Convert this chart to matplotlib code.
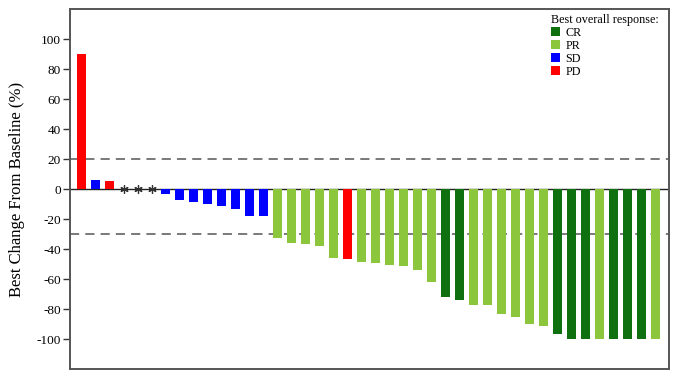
import numpy as np
import matplotlib.pyplot as plt
from matplotlib.patches import Patch

plt.rcParams['font.family'] = ['Liberation Serif', 'DejaVu Serif']

# best overall response per patient, in plotted order
response = ['PD', 'SD', 'PD', 'NE', 'NE', 'NE',
            'SD', 'SD', 'SD', 'SD', 'SD', 'SD', 'SD', 'SD',
            'PR', 'PR', 'PR', 'PR', 'PR', 'PD', 'PR', 'PR', 'PR', 'PR', 'PR', 'PR',
            'CR', 'CR', 'PR', 'PR', 'PR', 'PR', 'PR', 'PR',
            'CR', 'CR', 'CR', 'PR', 'CR', 'CR', 'CR', 'PR']
change = [90, 5.8, 5.3, 0, 0, 0,
          -3.6, -7.6, -8.9, -9.8, -11.1, -13.3, -17.8, -18.2,
          -32.4, -36.2, -36.9, -38.2, -46.2, -46.7, -48.9, -49.3, -50.4, -51.3, -54.2, -62,
          -72, -74.2, -77.6, -77.6, -83.3, -85.1, -89.8, -91.6,
          -96.4, -100, -100, -100, -100, -100, -100, -100]
yticks = [100, 80, 60, 40, 20, 0, -20, -40, -60, -80, -100]

colors = {'CR': '#0f700f', 'PR': '#8cc63c', 'SD': '#0000ff', 'PD': '#ff0000', 'NE': 'white'}
legend_labels = ['CR', 'PR', 'SD', 'PD']

fig = plt.figure(figsize=(6.79, 3.82), dpi=100)
ax = fig.add_axes([70 / 679, 1 - 369 / 382, 599 / 679, 360 / 382])

x = np.arange(len(change))
ax.bar(x, change, width=0.62, color=[colors[r] for r in response], zorder=2)

# not evaluable patients marked with an asterisk on the baseline
ne = [i for i, r in enumerate(response) if r == 'NE']
ax.plot(ne, [0] * len(ne), linestyle='none', marker=(6, 2, 0), markersize=6,
        color='#333333', markeredgewidth=0.9, zorder=3)

ax.axhline(0, color='#222222', lw=1.0, zorder=1)
ax.axhline(20, color='#555555', lw=1.1, ls=(0, (6, 4)), zorder=1)
ax.axhline(-30, color='#555555', lw=1.1, ls=(0, (6, 4)), zorder=1)

ax.set_xlim(-0.83, len(change) - 1 + 0.95)
ax.set_ylim(-120, 120)
ax.set_xticks([])
ax.set_yticks(yticks)
ax.set_yticklabels([str(t) for t in yticks], fontsize=9.5)
ax.tick_params(axis='y', length=5, width=1, color='#333333', pad=1.5)
for s in ax.spines.values():
    s.set_color('#555555')
    s.set_linewidth(1.4)

ax.set_ylabel('Best Change From Baseline (%)', fontsize=12)
ax.yaxis.set_label_coords(-0.075, 0.5)

handles = [Patch(facecolor=colors[l], edgecolor='none') for l in legend_labels]
leg = ax.legend(handles, legend_labels, title='Best overall response:',
                loc='upper left', bbox_to_anchor=(551 / 679, 1 - 14 / 382),
                bbox_transform=fig.transFigure, frameon=False, fontsize=8.7,
                title_fontsize=8.7, handlelength=0.75, handleheight=0.75,
                handletextpad=0.45, labelspacing=0.08, borderpad=0.0,
                borderaxespad=0, alignment='left')

fig.savefig('out.png', dpi=100)
